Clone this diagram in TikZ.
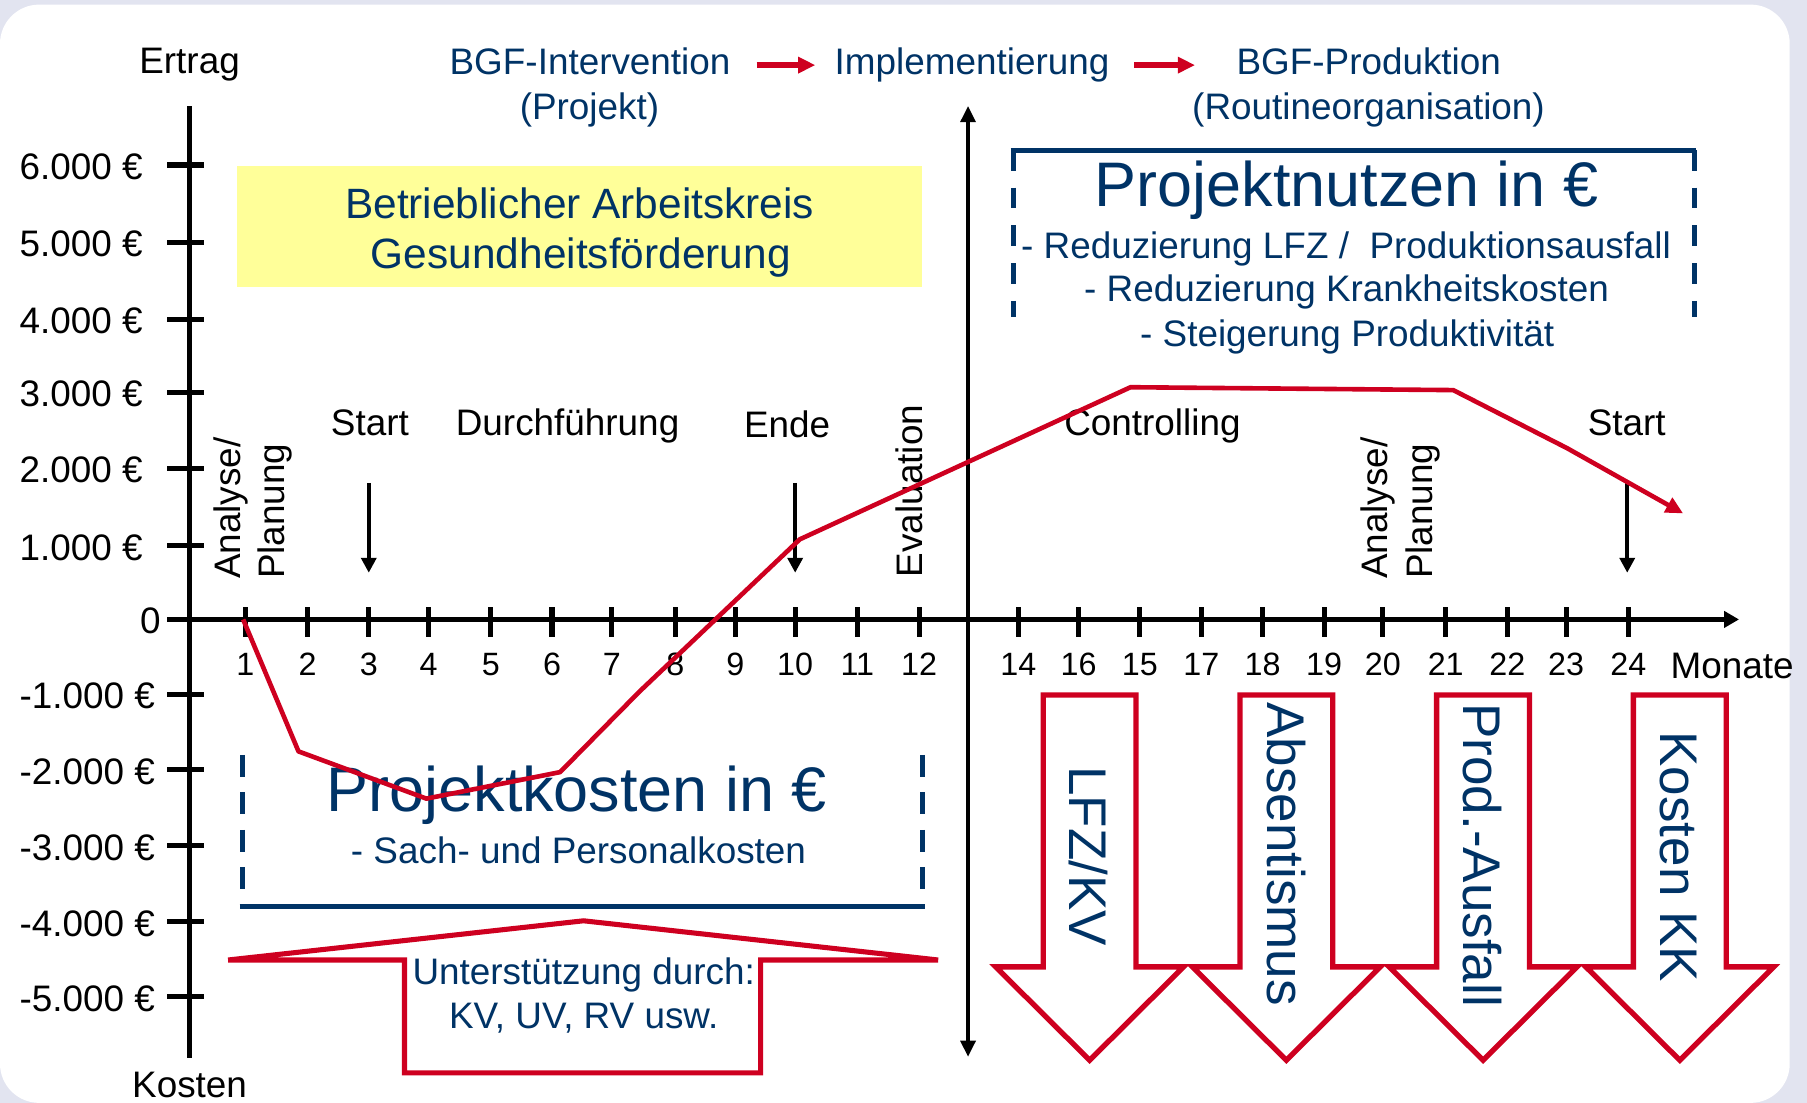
\documentclass[tikz,border=0pt]{standalone}
\usepackage{fontspec}
\setmainfont{Liberation Sans}
\usetikzlibrary{arrows.meta}
\definecolor{navy}{RGB}{0,51,102}
\definecolor{crim}{RGB}{206,0,32}
\definecolor{lav}{RGB}{226,228,240}
\definecolor{yel}{RGB}{255,255,153}
\begin{document}
\begin{tikzpicture}[x=0.5pt,y=-0.5pt,
  every node/.style={inner sep=0pt,outer sep=0pt},
  tsixteen/.style={font=\fontsize{16}{19.5}\selectfont},
  tfourteen/.style={font=\fontsize{14}{17}\selectfont},
  teighteen/.style={font=\fontsize{18.4}{22}\selectfont,text=navy},
  tbig/.style={font=\fontsize{27.3}{32}\selectfont,text=navy},
  tarrow/.style={font=\fontsize{23}{27}\selectfont,text=navy},
  bluetxt/.style={tsixteen,text=navy},
  axisline/.style={line width=2pt},
  tickline/.style={line width=2.2pt},
  boxline/.style={navy,line width=2.2pt},
  curve/.style={crim,line width=2pt,line join=round},
  redoutline/.style={crim,line width=2.3pt,fill=white},
  blackarrow/.style={line width=1.6pt,-{Triangle[length=6.5pt,width=6.5pt]}},
  toparrow/.style={crim,line width=2.6pt,-{Triangle[length=7.5pt,width=6.8pt]}}
]
\useasboundingbox (0,0) rectangle (1568,957);
% background
\fill[lav] (0,0) rectangle (1568,957);
\fill[white,rounded corners=17pt] (0,4) rectangle (1553,957);

% yellow box
\fill[yel] (205.8,143.8) rectangle (800,249.3);
\node[teighteen,anchor=base] (ak1) at (503,189.5) {Betrieblicher Arbeitskreis};
\node[teighteen,anchor=base] (ak2) at (504,233) {Gesundheitsförderung};

% top labels
\node[tsixteen,anchor=base] (ertrag) at (164.5,64) {Ertrag};
\node[tsixteen,anchor=base] (kosten) at (164.5,952.5) {Kosten};
\node[bluetxt,anchor=base] (bgfi) at (512,65) {BGF-Intervention};
\node[bluetxt,anchor=base] (projekt) at (511.5,104) {(Projekt)};
\node[bluetxt,anchor=base] (impl) at (843.5,65) {Implementierung};
\node[bluetxt,anchor=base] (bgfp) at (1187.7,65) {BGF-Produktion};
\node[bluetxt,anchor=base] (routine) at (1187.5,104) {(Routineorganisation)};
\coordinate (ta1) at (656.5,56.5);
\coordinate (ta2) at (707.5,56.5);
\coordinate (ta3) at (984,56.5);
\coordinate (ta4) at (1037,56.5);
\draw[toparrow] (ta1) -- (ta2);
\draw[toparrow] (ta3) -- (ta4);

% Projektnutzen box
\draw[boxline] (877,130.2) -- (1472,130.2);
\draw[boxline,dash pattern=on 9pt off 7.35pt] (879.3,130.2) -- (879.3,275);
\draw[boxline,dash pattern=on 9pt off 7.35pt] (1470,130.2) -- (1470,275);
\node[tbig,anchor=base] (pn) at (1168.5,179.5) {Projektnutzen in €};
\node[bluetxt,anchor=base] (pn1) at (1168,224) {- Reduzierung LFZ /\ \ Produktionsausfall};
\node[bluetxt,anchor=base] (pn2) at (1168.5,262) {- Reduzierung Krankheitskosten};
\node[bluetxt,anchor=base] (pn3) at (1169,301) {- Steigerung Produktivität};

% Projektkosten box
\draw[boxline] (208,786.8) -- (802.5,786.8);
\draw[boxline,dash pattern=on 9.5pt off 6.75pt] (210.6,655) -- (210.6,772);
\draw[boxline,dash pattern=on 9.5pt off 6.75pt] (800.8,655) -- (800.8,772);
\node[tbig,anchor=base] (pk) at (500.5,704) {Projektkosten in €};
\node[bluetxt,anchor=base] (pk1) at (502,749) {- Sach- und Personalkosten};

% support arrow
\draw[redoutline,line width=2.2pt] (198,833) -- (506.4,799) -- (814,833) -- (660,833) -- (660,931) -- (351,931) -- (351,833) -- cycle;
\node[bluetxt,anchor=base] (us1) at (506.5,854.7) {Unterstützung durch:};
\node[bluetxt,anchor=base] (us2) at (506.5,892.5) {KV, UV, RV usw.};

% down arrows
\foreach \c in {945.5,1116.2,1286.9,1457.6}{
  \draw[redoutline] ({\c-40.3},603) -- ({\c+40.3},603) -- ({\c+40.3},839) -- ({\c+81.5},839) -- (\c,920) -- ({\c-81.5},839) -- ({\c-40.3},839) -- cycle;
}
\node[tarrow,rotate=-90] (lfz) at (944.5,743) {LFZ/KV};
\node[tarrow,rotate=-90] (abs) at (1116,741) {Absentismus};
\node[tarrow,rotate=-90] (prod) at (1286.5,742) {Prod.-Ausfall};
\node[tarrow,rotate=-90] (kk) at (1456.5,743.5) {Kosten KK};

% y axis
\draw[axisline] (164.5,92) -- (164.5,918);
\foreach \y/\v [count=\i] in {143.2/6.000 €,210.3/5.000 €,277/4.000 €,340.5/3.000 €,406.4/2.000 €,473.5/1.000 €,602.7/-1.000 €,668/-2.000 €,734/-3.000 €,799.8/-4.000 €,865/-5.000 €}{
  \draw[tickline] (145,\y) -- (177,\y);
  \node[tsixteen,anchor=west] (yl\i) at (17,{\y+1.5}) {\v};
}
\draw[tickline] (145,537.4) -- (177,537.4);
\node[tsixteen] (yzero) at (130.5,538.5) {0};

% x axis
\coordinate (xstart) at (145,537.5);
\coordinate (xend) at (1509,537.5);
\draw[axisline,-{Triangle[length=6.5pt,width=7pt]}] (xstart) -- (xend);
\foreach \x/\l in {213/1,267/2,320/3,372/4,426/5,479/6,531/7,586/8,638/9,690/10,744/11,797.5/12}{
  \draw[tickline] (\x,527) -- (\x,553);
  \node[tfourteen,anchor=base] (xl\l) at (\x,586.5) {\l};
}
\foreach \x/\l in {883.7/14,936/16,989/15,1042.5/17,1095.6/18,1149/19,1200/20,1254.5/21,1308/22,1359/23,1413/24}{
  \draw[tickline] (\x,527) -- (\x,553);
  \node[tfourteen,anchor=base] (xr\l) at (\x,586.5) {\l};
}
\node[tsixteen,anchor=base] (monate) at (1503,588.5) {Monate};

% middle axis
\coordinate (mtop) at (840,92);
\coordinate (mbot) at (840,917);
\draw[line width=1.5pt,{Triangle[length=7pt,width=6.5pt]}-{Triangle[length=7pt,width=6.5pt]}] (mtop) -- (mbot);

% phase labels
\node[tsixteen,anchor=base] (start1) at (321,377.5) {Start};
\node[tsixteen,anchor=base] (durch) at (492.5,377.5) {Durchführung};
\node[tsixteen,anchor=base] (ende) at (683,380) {Ende};
\node[tsixteen,anchor=base] (contr) at (1000,377.5) {Controlling};
\node[tsixteen,anchor=base] (start2) at (1411.6,377.5) {Start};
\node[tsixteen,rotate=90] (eval) at (789,426) {Evaluation};
\node[tsixteen,rotate=90,align=left] (ap1) at (219.5,441) {Analyse/\\Planung};
\node[tsixteen,rotate=90,align=left] (ap2) at (1215.5,441) {Analyse/\\Planung};

% black arrows
\coordinate (s1a) at (320,419);
\coordinate (s1b) at (320,497);
\coordinate (ea) at (690,419);
\coordinate (eb) at (690,497);
\coordinate (s2a) at (1412,419);
\coordinate (s2b) at (1412,497);
\draw[blackarrow] (s1a) -- (s1b);
\draw[blackarrow] (ea) -- (eb);
\draw[blackarrow] (s2a) -- (s2b);

% red curve
\coordinate (c1) at (211,537.5);
\coordinate (c2) at (259,652);
\coordinate (c3) at (370,693);
\coordinate (c4) at (486,670);
\coordinate (c5) at (555,600);
\coordinate (c6) at (694,468);
\coordinate (c7) at (981,336);
\coordinate (c8) at (1261,338.5);
\coordinate (c9) at (1360,389);
\coordinate (c10) at (1460.5,445.5);
\draw[curve,-{Triangle[length=7.5pt,width=7pt]}] (c1) -- (c2) -- (c3) -- (c4) -- (c5) -- (c6) -- (c7) -- (c8) -- (c9) -- (c10);
\end{tikzpicture}
\end{document}
